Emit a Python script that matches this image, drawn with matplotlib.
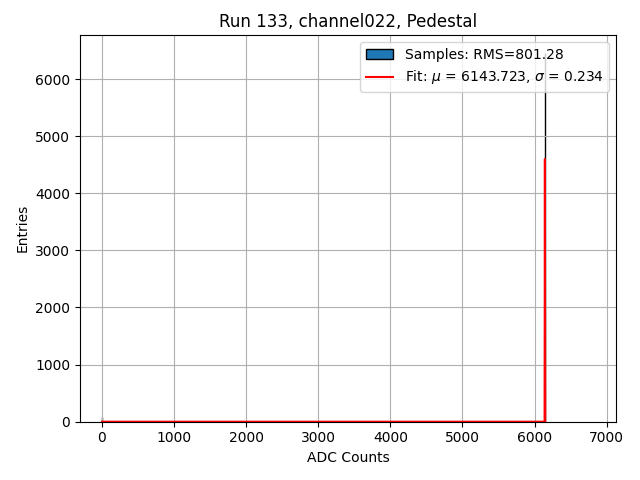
import numpy as np
import matplotlib
matplotlib.use("Agg")
import matplotlib.pyplot as plt

# histogram content (ADC value -> entries), unit-wide bins
adc_values = [0, 6143]
entries = [90, 6447]
bin_edges = np.arange(0, 6146)

# fitted gaussian as it was sampled on the plot grid
fit_x = [0, 6139.5, 6143.8, 6148.0]
fit_y = [0, 0, 4600, 0]

rms = 801.28
mu = 6143.723
sigma = 0.234


def main():
    plt.figure(figsize=(6.4, 4.8), dpi=100)
    plt.hist(adc_values, bins=bin_edges, weights=entries, color="C0",
             edgecolor="black", label="Samples: RMS=%.2f" % rms)
    plt.plot(fit_x, fit_y, color="red",
             label=r"Fit: $\mu$ = %.3f, $\sigma$ = %.3f" % (mu, sigma))
    plt.xlim(-305, 7130)
    plt.ylim(0, 6770)
    plt.title("Run 133, channel022, Pedestal")
    plt.xlabel("ADC Counts")
    plt.ylabel("Entries")
    plt.grid(True)
    plt.legend(loc="upper right")
    plt.subplots_adjust(left=0.125, right=0.9625, bottom=0.1215, top=0.927)
    plt.savefig("out.png")


if __name__ == "__main__":
    main()
